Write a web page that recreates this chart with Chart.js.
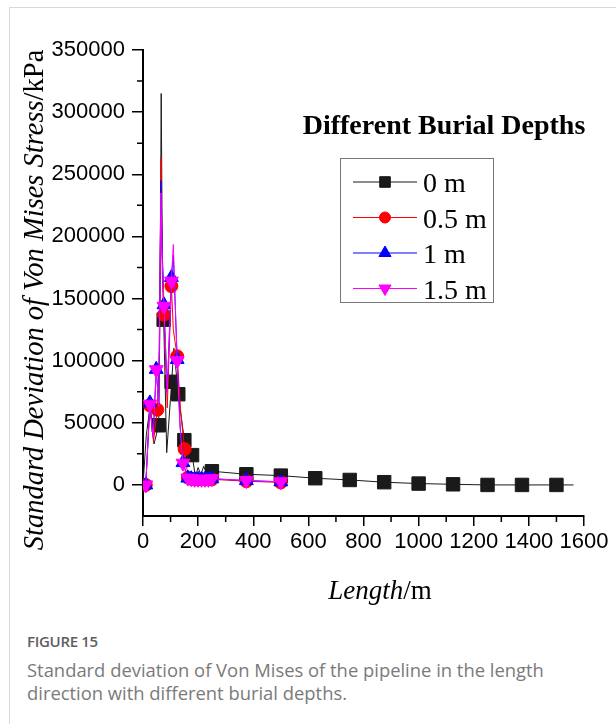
<!DOCTYPE html>
<html>
<head>
<meta charset="utf-8">
<script src="https://cdn.jsdelivr.net/npm/chart.js@4.4.1/dist/chart.umd.min.js"></script>
<style>
  body { margin: 0; background: #fff; }
  #frame { position: absolute; left: 9px; top: 7px; width: 607px; height: 717px;
           border-left: 1px solid #d9d9d9; border-top: 1px solid #d9d9d9; }
  #chart { position: absolute; left: 0; top: 0; }
  #caption { position: absolute; left: 27px; top: 630px; font-family: "Open Sans", sans-serif;
             font-size: 18.4px; line-height: 23px; color: #7a7a7a; }
  #caption b { display: block; font-size: 15px; font-weight: 600; color: #5e5e5e; margin-bottom: 5px;
               letter-spacing: -0.3px; }
</style>
</head>
<body>
<div id="frame"></div>
<canvas id="chart" width="616" height="620"></canvas>
<div id="caption">
  <b>FIGURE 15</b>
  Standard deviation of Von Mises of the pipeline in the length<br>
  direction with different burial depths.
</div>
<script>
// 0 m burial depth
var len0 = [0, 12, 25, 40, 57, 62, 66, 70, 75, 86, 104, 112, 128, 150, 165, 178, 190, 200, 210, 220, 232, 250,
            375, 500, 625, 750, 875, 1000, 1125, 1250, 1375, 1500, 1562];
var stress0 = [0, 40000, 62000, 33000, 48000, 150000, 315000, 190000, 133000, 26000, 83000, 110000, 73000, 36000,
               20000, 24000, 7000, 14000, 8000, 15000, 9000, 11000, 8600, 7500, 5400, 4000, 2200, 1100, 500, 0, 0, 0, 0];
var mark0 = [57, 75, 104, 128, 150, 178, 250, 375, 500, 625, 750, 875, 1000, 1125, 1250, 1375, 1500];

// 0.5 m burial depth
var len05 = [10, 25, 38, 52, 60, 65, 70, 76, 88, 103, 110, 124, 137, 151, 163, 175, 187.5, 200, 212.5, 225, 237.5, 250, 375, 500];
var stress05 = [0, 64000, 35000, 60500, 110000, 263000, 170000, 137000, 62000, 160000, 125000, 103500, 58000, 28800,
                6000, 5000, 4500, 4500, 4500, 4500, 4500, 4500, 3000, 2000];
var mark05 = [10, 25, 52, 76, 103, 124, 151, 163, 175, 187.5, 200, 212.5, 225, 237.5, 250, 375, 500];

// 1 m burial depth
var len1 = [10, 25, 37, 48, 57, 65, 70, 76, 88, 103, 110, 124, 134, 145, 162.5, 175, 187.5, 200, 212.5, 225, 237.5, 250, 375, 500];
var stress1 = [0, 66000, 40000, 93000, 65000, 245000, 185000, 145000, 75000, 167000, 185000, 101000, 50000, 18000,
               5500, 5000, 4500, 4500, 4500, 4500, 4500, 5000, 3500, 2500];
var mark1 = [10, 25, 48, 76, 103, 124, 145, 162.5, 175, 187.5, 200, 212.5, 225, 237.5, 250, 375, 500];

// 1.5 m burial depth
var len15 = [10, 25, 37, 48, 57, 65, 70, 76, 88, 103, 110, 124, 134, 145, 162.5, 175, 187.5, 200, 212.5, 225, 237.5, 250, 375, 500];
var stress15 = [0, 65000, 38000, 92700, 63000, 235000, 180000, 143800, 74000, 164000, 193500, 100000, 48000, 17500,
                5500, 5000, 4500, 4500, 4500, 4500, 4500, 5000, 3500, 2500];
var mark15 = [10, 25, 48, 76, 103, 124, 145, 162.5, 175, 187.5, 200, 212.5, 225, 237.5, 250, 375, 500];

var depthLabels = ['0 m', '0.5 m', '1 m', '1.5 m'];
var xTicks = [0, 200, 400, 600, 800, 1000, 1200, 1400, 1600];
var yTicks = [0, 50000, 100000, 150000, 200000, 250000, 300000, 350000];

var serif = '"Liberation Serif", "Times New Roman", serif';
var sans = '"Liberation Sans", Arial, sans-serif';

function series(label, lens, vals, marks, color, style, rot, radius, order) {
    return {
        label: label,
        data: lens.map(function(x, i) { return { x: x, y: vals[i] }; }),
        borderColor: color,
        backgroundColor: color,
        borderWidth: 1,
        tension: 0,
        pointStyle: style,
        pointRotation: rot,
        pointBorderWidth: 1,
        pointRadius: function(ctx) { return marks.indexOf(lens[ctx.dataIndex]) >= 0 ? radius : 0; },
        order: order
    };
}

var styles = [
    { color: '#1a1a1a', style: 'rect', rot: 0, r: 9.5, lr: 7.5 },
    { color: '#ff0000', style: 'circle', rot: 0, r: 6.5, lr: 5.5 },
    { color: '#0000ff', style: 'triangle', rot: 0, r: 8, lr: 7 },
    { color: '#ff00ff', style: 'triangle', rot: 180, r: 8, lr: 7 }
];

// minor ticks, axis titles and the boxed legend
var decor = {
    id: 'decor',
    afterDraw: function(chart) {
        var ctx = chart.ctx, xs = chart.scales.x, ys = chart.scales.y;
        var a = chart.chartArea;
        ctx.save();
        ctx.strokeStyle = '#000';
        ctx.lineWidth = 1.5;
        ctx.beginPath();
        for (var v = 100; v < 1600; v += 200) {
            var px = xs.getPixelForValue(v);
            ctx.moveTo(px, a.bottom); ctx.lineTo(px, a.bottom + 6);
        }
        for (var w = 25000; w < 350000; w += 50000) {
            var py = ys.getPixelForValue(w);
            ctx.moveTo(a.left, py); ctx.lineTo(a.left - 6, py);
        }
        ctx.stroke();

        // y title
        ctx.fillStyle = '#000';
        ctx.textBaseline = 'alphabetic';
        ctx.translate(43, 300);
        ctx.rotate(-Math.PI / 2);
        ctx.font = 'italic 28.5px ' + serif;
        var t1 = 'Standard Deviation of Von Mises Stress';
        var w1 = ctx.measureText(t1).width;
        ctx.font = '28.5px ' + serif;
        var w2 = ctx.measureText('/kPa').width;
        ctx.font = 'italic 28.5px ' + serif;
        ctx.fillText(t1, -(w1 + w2) / 2, 0);
        ctx.font = '28.5px ' + serif;
        ctx.fillText('/kPa', -(w1 + w2) / 2 + w1, 0);
        ctx.setTransform(1, 0, 0, 1, 0, 0);

        // x title
        ctx.font = 'italic 27px ' + serif;
        var u1 = ctx.measureText('Length').width;
        ctx.font = '27px ' + serif;
        var u2 = ctx.measureText('/m').width;
        var x0 = 380 - (u1 + u2) / 2;
        ctx.font = 'italic 27px ' + serif;
        ctx.fillText('Length', x0, 599);
        ctx.font = '27px ' + serif;
        ctx.fillText('/m', x0 + u1, 599);

        // legend
        ctx.font = 'bold 28px ' + serif;
        ctx.textAlign = 'center';
        ctx.fillText('Different Burial Depths', 444, 134);
        ctx.strokeStyle = '#777';
        ctx.lineWidth = 1;
        ctx.strokeRect(340.5, 158.5, 153, 144);
        ctx.textAlign = 'left';
        ctx.font = '28px ' + serif;
        for (var i = 0; i < depthLabels.length; i++) {
            var s = styles[i], ry = 182 + i * 35.5;
            ctx.strokeStyle = s.color;
            ctx.fillStyle = s.color;
            ctx.lineWidth = 1;
            ctx.beginPath();
            ctx.moveTo(353, ry); ctx.lineTo(417, ry);
            ctx.stroke();
            Chart.helpers.drawPoint(ctx, { pointStyle: s.style, rotation: s.rot, radius: s.lr, borderWidth: 1 }, 385, ry);
            ctx.fillStyle = '#000';
            ctx.fillText(depthLabels[i], 423, ry + 10);
        }
        ctx.restore();
    }
};

new Chart(document.getElementById('chart'), {
    type: 'line',
    data: {
        datasets: [
            series(depthLabels[0], len0, stress0, mark0, styles[0].color, styles[0].style, 0, styles[0].r, 4),
            series(depthLabels[1], len05, stress05, mark05, styles[1].color, styles[1].style, 0, styles[1].r, 3),
            series(depthLabels[2], len1, stress1, mark1, styles[2].color, styles[2].style, 0, styles[2].r, 2),
            series(depthLabels[3], len15, stress15, mark15, styles[3].color, styles[3].style, 180, styles[3].r, 1)
        ]
    },
    options: {
        responsive: false,
        animation: false,
        layout: { padding: { left: 40, right: 32, top: 50, bottom: 60 } },
        plugins: { legend: { display: false }, tooltip: { enabled: false } },
        scales: {
            x: {
                type: 'linear',
                min: 0, max: 1600,
                afterBuildTicks: function(s) { s.ticks = xTicks.map(function(v) { return { value: v }; }); },
                afterFit: function(s) { s.height = 44; },
                border: { display: true, color: '#000', width: 2 },
                grid: { display: true, drawOnChartArea: false, drawTicks: true, tickLength: 10, color: '#000', lineWidth: 1.5 },
                ticks: { color: '#000', padding: 3, maxRotation: 0, autoSkip: false,
                         font: { family: sans, size: 22 },
                         callback: function(v) { return String(v); } }
            },
            y: {
                type: 'linear',
                min: -25000, max: 350000,
                afterBuildTicks: function(s) { s.ticks = yTicks.map(function(v) { return { value: v }; }); },
                afterFit: function(s) { s.width = 103; },
                border: { display: true, color: '#000', width: 2 },
                grid: { display: true, drawOnChartArea: false, drawTicks: true, tickLength: 11, color: '#000', lineWidth: 1.5 },
                ticks: { color: '#000', padding: 7, autoSkip: false,
                         font: { family: sans, size: 22 },
                         callback: function(v) { return String(v); } }
            }
        }
    },
    plugins: [decor]
});
</script>
</body>
</html>
